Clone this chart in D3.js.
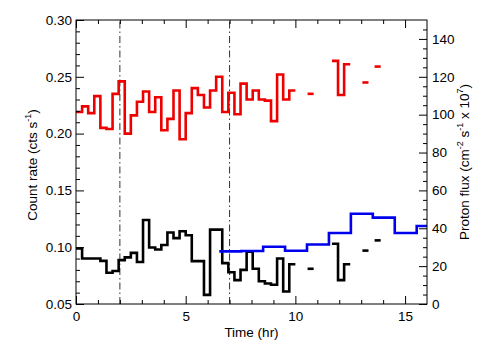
<!DOCTYPE html>
<html><head><meta charset="utf-8">
<script src="https://cdn.jsdelivr.net/npm/d3@7"></script>
<style>
body{margin:0;background:#fff;}
text{font-family:"Liberation Sans",Arial,Helvetica,sans-serif;}
</style></head>
<body><svg id="c" width="504" height="360"></svg>
<script>
// 1000 s bins (hours = index * 1000/3600)
const binHours = 1000/3600;
const countRateHigh = [0.219,0.224,0.218,0.233,0.205,0.204,0.235,0.246,0.200,0.216,
  0.228,0.237,0.219,0.232,0.203,0.213,0.238,0.195,0.218,0.240,
  0.234,0.223,0.238,0.250,0.219,0.236,0.217,0.244,0.230,0.238,
  0.230,0.229,0.211,0.252,0.230,0.238,null,null,0.235,null,
  null,null,0.264,0.234,0.261,null,null,0.245,null,0.259];
const countRateLow = [0.099,0.090,0.090,0.090,0.088,0.0775,0.079,0.0886,0.091,0.095,
  0.087,0.124,0.0997,0.098,0.102,0.113,0.108,0.114,0.1105,0.0877,
  0.0877,0.058,0.1155,0.1155,0.086,0.078,0.071,0.080,0.096,0.081,
  0.070,0.068,0.067,0.090,0.061,0.085,null,null,0.081,null,
  null,null,0.103,0.071,0.085,null,null,0.097,null,0.106];
const protonStart = [6.53,7.53,8.53,9.53,10.53,11.53,12.53,13.53,14.53,15.53];
const protonFlux  = [27.8,28.0,30.2,28.1,31.4,37.5,47.7,45.6,37.5,41.2];
const protonEnd = 16;
const markerTimes = [2,7];
const xTicks = [0,5,10,15];
const yLeftTicks = [0.05,0.10,0.15,0.20,0.25,0.30];
const yRightTicks = [0,20,40,60,80,100,120,140];

const W=504,H=360, L=76,R=427,T=20,B=304;
const svg=d3.select("#c");
const x=d3.scaleLinear([0,16],[L,R]);
const yL=d3.scaleLinear([0.05,0.30],[B,T]);
const yR=d3.scaleLinear([0,150],[B,T]);
const fs="13.5px";

// runs of contiguous bins
function runs(vals){
  const out=[];let cur=null;
  vals.forEach((v,i)=>{
    if(v==null){cur=null;return;}
    if(!cur){cur=[];out.push(cur);}
    cur.push({t:i*binHours,v});
  });
  out.forEach(r=>{const last=r[r.length-1];r.push({t:last.t+binHours,v:last.v});});
  return out;
}
const stepLine=(ys)=>d3.line().x(d=>x(d.t)).y(d=>ys(d.v)).curve(d3.curveStepAfter);

// marker lines
svg.selectAll("line.mk").data(markerTimes).enter().append("line")
  .attr("x1",d=>x(d)).attr("x2",d=>x(d)).attr("y1",B).attr("y2",T)
  .attr("stroke","#333").attr("stroke-width",1).attr("stroke-dasharray","7,3,1.5,3");

function drawRuns(vals,color){
  svg.append("g").selectAll("path").data(runs(vals)).enter().append("path")
    .attr("d",stepLine(yL)).attr("fill","none").attr("stroke",color)
    .attr("stroke-width",2.6).attr("stroke-linejoin","miter").attr("stroke-linecap","butt");
}
drawRuns(countRateHigh,"#ee0000");
drawRuns(countRateLow,"#000000");

const pData=protonStart.map((t,i)=>({t,v:protonFlux[i]}));
pData.push({t:protonEnd,v:protonFlux[protonFlux.length-1]});
svg.append("path").attr("d",stepLine(yR)(pData)).attr("fill","none")
  .attr("stroke","#0000ee").attr("stroke-width",2.6);

// frame
svg.append("rect").attr("x",L).attr("y",T).attr("width",R-L).attr("height",B-T)
  .attr("fill","none").attr("stroke","#000").attr("stroke-width",1);

function styleAxis(g){
  g.select(".domain").remove();
  g.selectAll("line").attr("stroke","#000").attr("stroke-width",1);
  g.selectAll("text").attr("font-size",fs).attr("fill","#000");
}
// bottom
svg.append("g").attr("transform",`translate(0,${B})`)
  .call(d3.axisBottom(x).tickValues(xTicks).tickSize(-8).tickPadding(7).tickFormat(d3.format("d"))).call(styleAxis);
svg.append("g").attr("transform",`translate(0,${B})`)
  .call(d3.axisBottom(x).tickValues(d3.range(1,16).filter(d=>d%5)).tickSize(-4).tickFormat("")).call(styleAxis);
// top
svg.append("g").attr("transform",`translate(0,${T})`)
  .call(d3.axisTop(x).tickValues(xTicks).tickSize(-8).tickFormat("")).call(styleAxis);
svg.append("g").attr("transform",`translate(0,${T})`)
  .call(d3.axisTop(x).tickValues(d3.range(1,16).filter(d=>d%5)).tickSize(-4).tickFormat("")).call(styleAxis);
// left
svg.append("g").attr("transform",`translate(${L},0)`)
  .call(d3.axisLeft(yL).tickValues(yLeftTicks).tickSize(-8).tickPadding(4).tickFormat(d3.format(".2f"))).call(styleAxis);
svg.append("g").attr("transform",`translate(${L},0)`)
  .call(d3.axisLeft(yL).tickValues(d3.range(6,30).filter(d=>d%5).map(d=>d/100)).tickSize(-4).tickFormat("")).call(styleAxis);
// right
svg.append("g").attr("transform",`translate(${R},0)`)
  .call(d3.axisRight(yR).tickValues(yRightTicks).tickSize(-8).tickPadding(5)).call(styleAxis);
svg.append("g").attr("transform",`translate(${R},0)`)
  .call(d3.axisRight(yR).tickValues(d3.range(5,150,5).filter(d=>d%20)).tickSize(-4).tickFormat("")).call(styleAxis);

// titles
svg.append("text").attr("x",(L+R)/2).attr("y",337).attr("text-anchor","middle")
  .attr("font-size",fs).text("Time (hr)");
const lt=svg.append("text").attr("transform",`translate(37,${(T+B)/2+3}) rotate(-90)`)
  .attr("text-anchor","middle").attr("font-size",fs);
lt.append("tspan").text("Count rate (cts  s");
lt.append("tspan").attr("font-size","9px").attr("dy","-6").text("-1");
lt.append("tspan").attr("dy","6").text(")");
const rt=svg.append("text").attr("transform",`translate(469,${(T+B)/2}) rotate(-90)`)
  .attr("text-anchor","middle").attr("font-size",fs);
rt.append("tspan").text("Proton flux (cm");
rt.append("tspan").attr("font-size","9px").attr("dy","-6").text("-2");
rt.append("tspan").attr("dy","6").text(" s");
rt.append("tspan").attr("font-size","9px").attr("dy","-6").text("-1");
rt.append("tspan").attr("dy","6").text(" x 10");
rt.append("tspan").attr("font-size","9px").attr("dy","-6").text("7");
rt.append("tspan").attr("dy","6").text(")");
</script></body></html>
